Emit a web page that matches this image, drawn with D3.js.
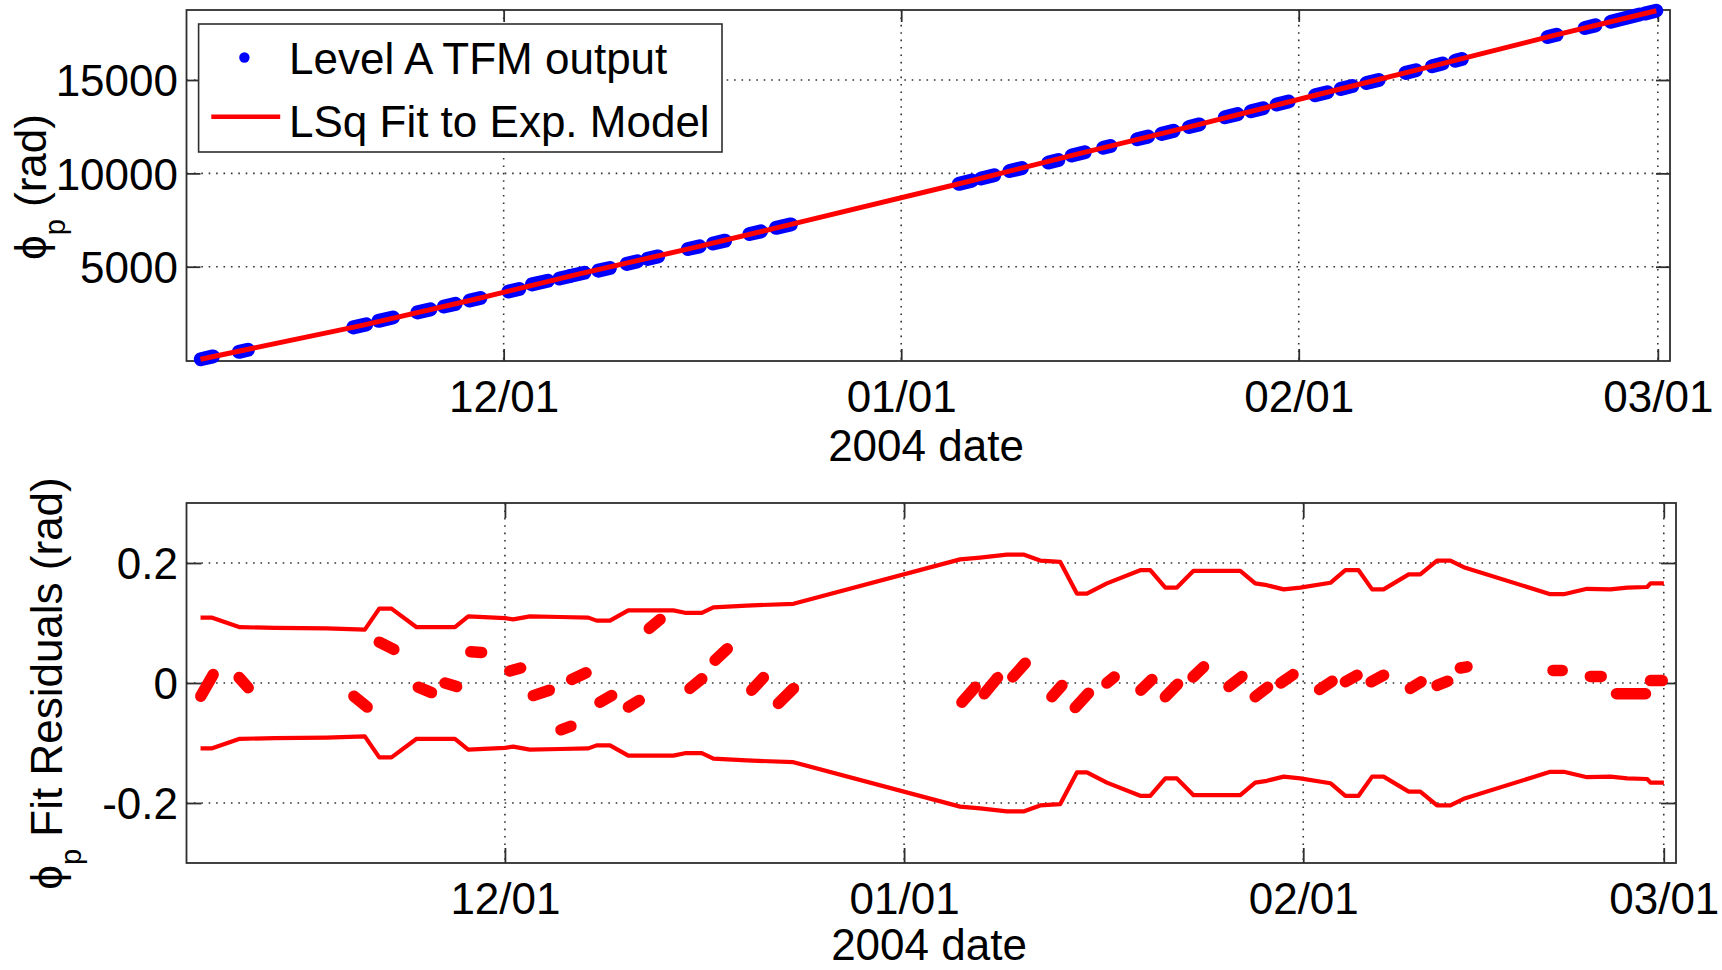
<!DOCTYPE html>
<html>
<head>
<meta charset="utf-8">
<script src="https://cdn.jsdelivr.net/npm/d3@7"></script>
<style>
  body { margin: 0; background: #fff; }
  svg text { font-family: "Liberation Sans", Arial, Helvetica, sans-serif; fill: #000; white-space: pre; }
</style>
</head>
<body>
<svg id="chart" width="1722" height="970"></svg>
<script>
// ---- Tracking passes (times as 2004 day-of-year; values past 366 run into 2005) ----
const passStartDoy = [312.38,315.36,324.27,326.24,329.27,331.34,333.35,336.38,338.20,340.35,
                      341.18,343.38,345.59,347.21,350.37,352.32,355.17,357.24,371.49,373.22,
                      375.44,378.48,380.29,382.75,385.39,387.29,389.44,392.23,394.27,396.27,
                      399.27,401.27,403.27,406.32,408.39,410.20,417.40,420.30,422.33,424.97];
const passEndDoy   = [313.34,316.06,325.30,327.37,330.30,332.25,334.19,337.22,339.45,341.13,
                      342.30,344.29,346.43,348.05,351.29,353.27,356.07,358.41,372.52,374.26,
                      376.41,379.26,381.32,383.32,386.25,388.24,390.26,393.24,395.23,397.21,
                      400.24,402.18,404.24,407.15,409.22,410.72,418.11,421.14,424.58,425.88];

// Level A TFM phase at start / end of each pass (rad)
const phaseStart = [45,442,1751,2101,2553,2867,3193,3673,4053,4369,
                    4502,4790,5152,5420,5948,6245,6751,7082,9439,9727,
                    10123,10582,10955,11368,11825,12115,12485,13003,13327,13686,
                    14181,14523,14837,15383,15741,16035,17302,17787,18123,18558];
const phaseEnd   = [195,552,1913,2279,2715,3009,3325,3805,4249,4491,
                    4678,4932,5286,5552,6092,6395,6893,7266,9611,9899,
                    10283,10712,11129,11464,11969,12277,12623,13173,13489,13846,
                    14345,14677,15003,15525,15883,16123,17422,17929,18507,18712];

// Fit residuals at start / end of each pass (rad)
const residStart = [-0.022,0.009,-0.022,0.068,-0.007,0.000,0.052,0.020,-0.021,-0.078,
                    0.006,-0.032,-0.040,0.091,-0.009,0.038,-0.012,-0.034,-0.032,-0.018,
                    0.010,-0.023,-0.041,0.000,-0.012,-0.023,0.010,-0.006,-0.023,0.000,
                    -0.011,0.002,0.002,-0.009,-0.004,0.025,0.021,0.011,-0.018,0.004];
const residEnd   = [0.014,-0.008,-0.040,0.056,-0.016,-0.006,0.051,0.025,-0.012,-0.072,
                    0.017,-0.021,-0.029,0.106,0.007,0.057,0.009,-0.009,-0.007,0.009,
                    0.033,-0.004,-0.017,0.010,0.006,-0.002,0.027,0.011,-0.007,0.014,
                    0.003,0.013,0.013,0.002,0.003,0.027,0.021,0.011,-0.018,0.004];

// Least-squares exponential model evaluated along the span
const fitDoy   = [312.36,324.79,333.77,341.74,350.83,357.83,372.00,380.80,389.85,399.75,408.80,417.75,425.88];
const fitPhase = [45,1832,3259,4590,6020,7174,9525,11042,12554,14263,15812,17362,18712];

// Formal 1-sigma envelope of the fit (rad)
const sigmaDoy = [312.36,313.21,315.41,318.13,322.15,325.12,326.24,327.19,329.14,332.12,
                  333.15,336.00,336.64,337.94,340.27,342.48,343.12,344.16,345.58,349.08,
                  349.98,351.29,352.19,354.78,358.41,371.35,372.90,374.98,376.27,377.57,
                  379.12,380.42,381.20,382.75,385.34,386.12,387.29,388.19,389.48,393.11,
                  394.27,395.18,396.48,397.77,400.11,401.27,402.30,403.35,404.24,406.19,
                  407.09,408.39,409.43,410.46,417.19,418.23,420.04,421.86,423.16,424.71,
                  424.97,426.01];
const sigmaRad = [0.109,0.109,0.093,0.092,0.091,0.089,0.124,0.124,0.093,0.093,
                  0.111,0.108,0.106,0.111,0.110,0.109,0.104,0.104,0.121,0.121,
                  0.117,0.117,0.126,0.129,0.132,0.206,0.209,0.214,0.214,0.204,
                  0.202,0.149,0.149,0.166,0.188,0.188,0.159,0.159,0.187,0.187,
                  0.166,0.163,0.156,0.159,0.167,0.188,0.188,0.156,0.156,0.181,
                  0.181,0.204,0.204,0.193,0.148,0.148,0.157,0.156,0.159,0.160,
                  0.166,0.166];

// Axis ticks and labels
const monthTicks = ["2004-12-01","2005-01-01","2005-02-01","2005-03-01"];
const phaseTicks = [5000, 10000, 15000];
const residTicks = [-0.2, 0, 0.2];
const xDomainDoy = [311.27, 426.95];
const legendLabels = ["Level A TFM output", "LSq Fit to Exp. Model"];

// ---- helpers ----
const yearStart = Date.UTC(2004, 0, 1);
const doyToDate = d => new Date(yearStart + (d - 1) * 864e5);
const tickDates = monthTicks.map(d3.utcParse("%Y-%m-%d"));
const fmtDate = d3.utcFormat("%m/%d");
const fmtResid = v => d3.format("~g")(v).replace("\u2212", "-");

const svg = d3.select("#chart");
const AXIS = "#2e2e2e";
const BLUE = "#0000ff";
const RED = "#ff0000";

const topBox = { left: 186.5, right: 1670, top: 10, bottom: 361 };
const botBox = { left: 186.5, right: 1676, top: 503, bottom: 863 };

const xTop = d3.scaleUtc().domain(xDomainDoy.map(doyToDate)).range([topBox.left, topBox.right]);
const yTop = d3.scaleLinear().domain([-50, 18750]).range([topBox.bottom, topBox.top]);
const xBot = d3.scaleUtc().domain(xDomainDoy.map(doyToDate)).range([botBox.left, botBox.right]);
const yBot = d3.scaleLinear().domain([-0.3, 0.3]).range([botBox.bottom, botBox.top]);

function drawFrame(box, x, y, yTicks, yFmt, xTickLen, yTickLen) {
  const g = svg.append("g");
  // dotted grid
  g.append("g").selectAll("line").data(tickDates).join("line")
    .attr("x1", d => x(d)).attr("x2", d => x(d))
    .attr("y1", box.top).attr("y2", box.bottom);
  g.append("g").selectAll("line").data(yTicks).join("line")
    .attr("x1", box.left).attr("x2", box.right)
    .attr("y1", d => y(d)).attr("y2", d => y(d));
  g.selectAll("g line")
    .attr("stroke", "#333").attr("stroke-width", 1.6).attr("stroke-dasharray", "1.6 5.8");

  // box
  g.append("rect")
    .attr("x", box.left).attr("y", box.top)
    .attr("width", box.right - box.left).attr("height", box.bottom - box.top)
    .attr("fill", "none").attr("stroke", AXIS).attr("stroke-width", 1.8);

  const style = sel => {
    sel.select(".domain").remove();
    sel.selectAll(".tick line").attr("stroke", AXIS).attr("stroke-width", 1.8);
    sel.selectAll(".tick text").attr("font-size", 44).attr("fill", "#000")
      .style("font-family", '"Liberation Sans", Arial, Helvetica, sans-serif');
  };

  // inward ticks on all four sides, labels on bottom and left
  g.append("g").attr("transform", `translate(0,${box.bottom})`)
    .call(d3.axisBottom(x).tickValues(tickDates).tickFormat(fmtDate)
      .tickSizeInner(-xTickLen).tickSizeOuter(0))
    .call(style)
    .call(s => s.selectAll(".tick text").attr("y", 50.5).attr("dy", null));
  g.append("g").attr("transform", `translate(0,${box.top})`)
    .call(d3.axisTop(x).tickValues(tickDates).tickFormat("")
      .tickSizeInner(-xTickLen).tickSizeOuter(0))
    .call(style);
  g.append("g").attr("transform", `translate(${box.left},0)`)
    .call(d3.axisLeft(y).tickValues(yTicks).tickFormat(yFmt)
      .tickSizeInner(-yTickLen).tickSizeOuter(0))
    .call(style)
    .call(s => s.selectAll(".tick text").attr("x", -8.5).attr("dy", "0.36em"));
  g.append("g").attr("transform", `translate(${box.right},0)`)
    .call(d3.axisRight(y).tickValues(yTicks).tickFormat("")
      .tickSizeInner(-yTickLen).tickSizeOuter(0))
    .call(style);
}

function yLabel(xPos, yPos, rest) {
  const t = svg.append("text")
    .attr("transform", `translate(${xPos},${yPos}) rotate(-90)`)
    .attr("text-anchor", "middle").attr("font-size", 44);
  t.append("tspan").text("\u03d5");
  t.append("tspan").attr("font-size", 29).attr("dy", 19).text("p");
  t.append("tspan").attr("dy", -19).text(rest);
}

// ================= top panel: unwrapped phase =================
drawFrame(topBox, xTop, yTop, phaseTicks, d3.format("d"), 12, 14);

const passes = passStartDoy.map((s, i) => ({
  t0: doyToDate(s), t1: doyToDate(passEndDoy[i]),
  p0: phaseStart[i], p1: phaseEnd[i],
  r0: residStart[i], r1: residEnd[i]
}));

svg.append("g").selectAll("line").data(passes).join("line")
  .attr("x1", d => xTop(d.t0)).attr("y1", d => yTop(d.p0))
  .attr("x2", d => xTop(d.t1)).attr("y2", d => yTop(d.p1))
  .attr("stroke", BLUE).attr("stroke-width", 14).attr("stroke-linecap", "round");

const fitLine = d3.line()
  .x(d => xTop(doyToDate(d[0]))).y(d => yTop(d[1]));
svg.append("path")
  .datum(fitDoy.map((d, i) => [d, fitPhase[i]]))
  .attr("d", fitLine)
  .attr("fill", "none").attr("stroke", RED).attr("stroke-width", 5)
  .attr("stroke-linejoin", "round");

svg.append("text").attr("x", 926).attr("y", 461)
  .attr("text-anchor", "middle").attr("font-size", 44).text("2004 date");
yLabel(46, 187, " (rad)");

// legend
const lg = svg.append("g");
lg.append("rect").attr("x", 198.6).attr("y", 24).attr("width", 523.4).attr("height", 128)
  .attr("fill", "#fff").attr("stroke", AXIS).attr("stroke-width", 1.6);
lg.append("circle").attr("cx", 244.4).attr("cy", 57.5).attr("r", 5.2).attr("fill", BLUE);
lg.append("line").attr("x1", 211.3).attr("x2", 280.2).attr("y1", 116.7).attr("y2", 116.7)
  .attr("stroke", RED).attr("stroke-width", 4.5);
lg.selectAll("text.leg").data(legendLabels).join("text").attr("class", "leg")
  .attr("x", 289).attr("y", (d, i) => i === 0 ? 74 : 136.7)
  .attr("font-size", 44).text(d => d);

// ================= bottom panel: fit residuals =================
drawFrame(botBox, xBot, yBot, residTicks, fmtResid, 15, 15);

const sigLine = sign => d3.line()
  .x(d => xBot(doyToDate(d[0]))).y(d => yBot(sign * d[1]));
const sigData = sigmaDoy.map((d, i) => [d, sigmaRad[i]]);
[1, -1].forEach(sign => {
  svg.append("path").datum(sigData).attr("d", sigLine(sign))
    .attr("fill", "none").attr("stroke", RED).attr("stroke-width", 4.2)
    .attr("stroke-linejoin", "round");
});

svg.append("g").selectAll("line").data(passes).join("line")
  .attr("x1", d => xBot(d.t0)).attr("y1", d => yBot(d.r0))
  .attr("x2", d => xBot(d.t1)).attr("y2", d => yBot(d.r1))
  .attr("stroke", RED).attr("stroke-width", 11.5).attr("stroke-linecap", "round");

svg.append("text").attr("x", 929).attr("y", 960)
  .attr("text-anchor", "middle").attr("font-size", 44).text("2004 date");
yLabel(62, 683.5, " Fit Residuals (rad)");
</script>
</body>
</html>
